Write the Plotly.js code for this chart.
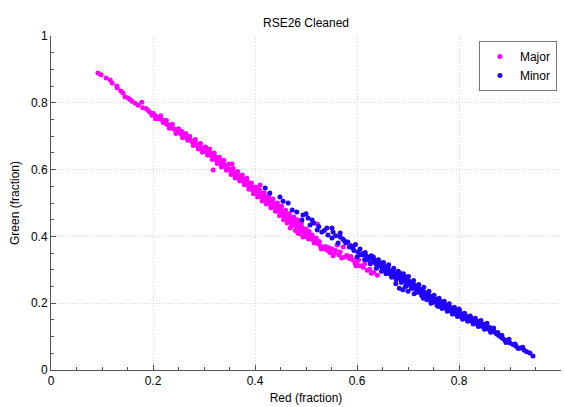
<!DOCTYPE html>
<html>
<head>
<meta charset="utf-8">
<script src="https://cdn.plot.ly/plotly-3.0.1.min.js"></script>
<style>html,body{margin:0;padding:0;background:#fff;}#chart{width:564px;height:407px;}</style>
</head>
<body>
<div id="chart"></div>
<script>
// Major series (magenta)
var majorX = [0.092,0.098,0.108,0.116,0.120,0.129,0.130,0.137,0.141,0.145,0.151,0.155,0.159,0.165,0.171,0.178,0.180,0.186,0.190,0.194,0.200,0.198,0.204,0.208,0.212,0.214,0.218,0.220,0.224,0.227,0.229,0.233,0.235,0.237,0.240,0.243,0.246,0.249,0.252,0.255,0.259,0.262,0.265,0.267,0.270,0.273,0.276,0.278,0.281,0.284,0.287,0.288,0.291,0.295,0.298,0.300,0.302,0.306,0.308,0.310,0.312,0.315,0.318,0.318,0.321,0.323,0.325,0.328,0.331,0.333,0.336,0.338,0.341,0.343,0.346,0.347,0.350,0.352,0.355,0.355,0.358,0.360,0.362,0.364,0.367,0.369,0.371,0.374,0.376,0.378,0.380,0.383,0.385,0.387,0.389,0.390,0.392,0.394,0.396,0.398,0.400,0.402,0.404,0.406,0.408,0.410,0.411,0.413,0.415,0.417,0.419,0.421,0.424,0.426,0.428,0.430,0.432,0.434,0.436,0.438,0.441,0.443,0.445,0.447,0.449,0.451,0.453,0.455,0.457,0.459,0.462,0.464,0.466,0.468,0.469,0.471,0.473,0.475,0.477,0.480,0.482,0.484,0.486,0.488,0.490,0.492,0.494,0.496,0.498,0.500,0.503,0.506,0.508,0.510,0.514,0.518,0.522,0.524,0.528,0.532,0.536,0.540,0.544,0.547,0.551,0.556,0.561,0.567,0.573,0.576,0.580,0.585,0.592,0.596,0.600,0.606,0.612,0.620,0.625,0.633,0.640,
  0.205,0.215,0.226,0.232,0.238,0.245,0.250,0.256,0.258,0.264,0.268,0.272,0.279,0.283,0.289,0.293,0.297,0.303,0.307,0.311,0.316,0.320,0.326,0.330,0.334,0.339,0.344,0.349,0.353,0.357,0.361,0.366,0.370,0.375,0.379,0.384,0.388,0.393,0.397,0.401,0.405,0.409,0.414,0.418,0.422,0.427,0.431,0.435,0.440,0.444,0.448,0.452,0.456,0.460,0.463,0.467,0.472,0.476,0.479,0.483,0.487,0.491,0.495,0.499,0.505,0.512,0.516,0.520,0.526,0.530,0.538,0.545,0.553,0.558,0.565,0.570,0.588,0.598,0.603,0.615,0.628];
var majorY = [0.889,0.884,0.874,0.868,0.859,0.850,0.844,0.835,0.829,0.818,0.814,0.810,0.805,0.799,0.793,0.802,0.785,0.783,0.778,0.772,0.769,0.763,0.762,0.757,0.752,0.755,0.749,0.741,0.744,0.736,0.734,0.733,0.727,0.729,0.722,0.720,0.716,0.713,0.711,0.706,0.704,0.701,0.696,0.699,0.690,0.689,0.684,0.683,0.678,0.680,0.674,0.670,0.668,0.664,0.665,0.658,0.661,0.653,0.649,0.656,0.644,0.646,0.636,0.599,0.640,0.632,0.628,0.624,0.620,0.626,0.615,0.618,0.613,0.607,0.609,0.604,0.600,0.596,0.617,0.593,0.590,0.586,0.582,0.589,0.578,0.574,0.580,0.569,0.566,0.572,0.561,0.557,0.563,0.552,0.548,0.556,0.543,0.549,0.538,0.545,0.534,0.530,0.541,0.526,0.533,0.554,0.520,0.527,0.516,0.523,0.510,0.518,0.505,0.512,0.499,0.509,0.494,0.502,0.488,0.497,0.484,0.490,0.477,0.486,0.470,0.480,0.466,0.473,0.460,0.468,0.455,0.462,0.448,0.457,0.425,0.443,0.451,0.437,0.446,0.431,0.440,0.410,0.425,0.434,0.419,0.428,0.398,0.413,0.410,0.422,0.404,0.415,0.402,0.396,0.389,0.384,0.437,0.378,0.372,0.368,0.364,0.360,0.357,0.352,0.362,0.349,0.374,0.353,0.368,0.338,0.343,0.334,0.329,0.320,0.324,0.312,0.308,0.299,0.302,0.292,0.284,
  0.752,0.761,0.748,0.724,0.736,0.708,0.722,0.715,0.695,0.708,0.688,0.700,0.672,0.690,0.662,0.678,0.652,0.668,0.643,0.662,0.630,0.650,0.618,0.637,0.608,0.628,0.598,0.617,0.585,0.603,0.575,0.594,0.566,0.584,0.555,0.574,0.541,0.560,0.528,0.548,0.518,0.540,0.506,0.531,0.497,0.522,0.486,0.512,0.475,0.500,0.462,0.490,0.450,0.478,0.440,0.468,0.432,0.458,0.418,0.450,0.408,0.440,0.420,0.400,0.392,0.404,0.380,0.395,0.385,0.362,0.370,0.366,0.342,0.358,0.344,0.335,0.340,0.312,0.330,0.318,0.290];

// Minor series (blue)
var minorX = [0.420,0.429,0.449,0.465,0.473,0.482,0.494,0.504,0.512,0.492,0.508,0.522,0.541,0.553,0.531,0.543,0.567,0.551,0.551,0.567,0.582,0.563,0.575,0.588,0.592,0.597,0.602,0.606,0.610,0.612,0.616,0.620,0.622,0.625,0.628,0.631,0.634,0.637,0.640,0.643,0.645,0.647,0.649,0.651,0.653,0.656,0.659,0.661,0.663,0.665,0.667,0.669,0.671,0.673,0.675,0.678,0.680,0.682,0.684,0.686,0.688,0.690,0.692,0.694,0.696,0.698,0.700,0.702,0.704,0.706,0.708,0.710,0.712,0.714,0.716,0.718,0.720,0.722,0.724,0.726,0.728,0.730,0.732,0.734,0.736,0.738,0.740,0.742,0.744,0.746,0.748,0.750,0.752,0.754,0.756,0.758,0.760,0.762,0.764,0.766,0.768,0.770,0.772,0.774,0.776,0.778,0.780,0.782,0.784,0.786,0.788,0.790,0.792,0.794,0.796,0.798,0.800,0.800,0.803,0.806,0.809,0.812,0.815,0.818,0.821,0.824,0.827,0.830,0.833,0.836,0.839,0.842,0.845,0.848,0.851,0.854,0.857,0.860,0.863,0.866,0.870,0.874,0.878,0.882,0.886,0.890,0.895,0.900,0.906,0.912,0.920,0.928,0.939,0.945,0.683,0.690,0.695,0.676,0.700,0.712,0.730,0.745,0.760,
  0.600,0.605,0.615,0.618,0.626,0.632,0.638,0.642,0.648,0.652,0.657,0.662,0.668,0.672,0.677,0.681,0.687,0.691,0.697,0.701,0.707,0.711,0.717,0.721,0.727,0.731,0.737,0.741,0.747,0.751,0.757,0.761,0.767,0.771,0.777,0.781,0.787,0.791,0.797,0.801,0.807,0.811,0.817,0.822,0.828,0.832,0.838,0.843,0.850,0.855,0.862,0.868,0.876,0.884,0.892,0.898,0.910,0.916,0.925,0.933,
  0.455,0.500,0.515,0.525,0.536,0.558,0.572,0.578,0.585,0.594];
var minorY = [0.545,0.530,0.518,0.500,0.479,0.473,0.464,0.455,0.449,0.449,0.434,0.419,0.425,0.413,0.413,0.404,0.410,0.395,0.425,0.398,0.383,0.380,0.388,0.372,0.365,0.376,0.353,0.362,0.348,0.344,0.352,0.338,0.330,0.335,0.342,0.323,0.330,0.318,0.326,0.312,0.314,0.320,0.308,0.302,0.311,0.296,0.299,0.306,0.290,0.296,0.284,0.290,0.298,0.281,0.287,0.284,0.276,0.282,0.290,0.272,0.278,0.275,0.268,0.280,0.262,0.270,0.258,0.266,0.263,0.252,0.260,0.247,0.255,0.243,0.250,0.238,0.246,0.234,0.242,0.229,0.238,0.225,0.233,0.220,0.228,0.217,0.225,0.213,0.221,0.209,0.218,0.206,0.214,0.203,0.211,0.199,0.207,0.196,0.204,0.192,0.200,0.189,0.196,0.186,0.193,0.182,0.190,0.178,0.186,0.175,0.182,0.172,0.179,0.168,0.176,0.165,0.183,0.172,0.161,0.168,0.157,0.164,0.153,0.159,0.148,0.155,0.144,0.150,0.140,0.146,0.136,0.141,0.131,0.137,0.127,0.132,0.123,0.127,0.118,0.122,0.113,0.108,0.103,0.099,0.094,0.090,0.085,0.081,0.076,0.071,0.066,0.059,0.051,0.042,0.245,0.240,0.250,0.258,0.236,0.228,0.215,0.200,0.190,
  0.338,0.345,0.330,0.342,0.318,0.338,0.305,0.330,0.296,0.322,0.288,0.315,0.278,0.305,0.270,0.296,0.262,0.288,0.252,0.280,0.244,0.268,0.232,0.256,0.222,0.248,0.210,0.236,0.202,0.224,0.193,0.215,0.184,0.206,0.176,0.198,0.168,0.188,0.160,0.178,0.152,0.170,0.146,0.162,0.138,0.155,0.130,0.148,0.122,0.140,0.113,0.126,0.112,0.104,0.082,0.092,0.078,0.064,0.068,0.055,
  0.505,0.468,0.440,0.430,0.418,0.402,0.392,0.380,0.368,0.358];

var seriesNames = ["Major", "Minor"];
var tickVals = [0, 0.2, 0.4, 0.6, 0.8, 1];
var tickText = ["0", "0.2", "0.4", "0.6", "0.8", "1"];

var font = "Liberation Sans, Arial, sans-serif";
var traces = [
  {x: majorX, y: majorY, name: seriesNames[0], type: "scatter", mode: "markers",
   marker: {color: "#ff00ff", size: 5}},
  {x: minorX, y: minorY, name: seriesNames[1], type: "scatter", mode: "markers",
   marker: {color: "#2000ff", size: 5}}
];

function axis(title, standoff) {
  return {
    title: {text: title, standoff: standoff, font: {size: 12, color: "#000", family: font}},
    range: [0, 1],
    tickvals: tickVals,
    ticktext: tickText,
    tickfont: {size: 12, color: "#000", family: font},
    showline: true, linecolor: "#555", linewidth: 1,
    ticks: "inside", ticklen: 5, tickcolor: "#555",
    showgrid: true, gridcolor: "#d8d8d8", griddash: "1px,2px", gridwidth: 1,
    zeroline: false,
    minor: {ticks: "inside", ticklen: 3, tickcolor: "#555", dtick: 0.05, tick0: 0, showgrid: false},
    fixedrange: true
  };
}

var layout = {
  width: 564, height: 407,
  margin: {l: 51, r: 3, t: 36, b: 37},
  paper_bgcolor: "#fff", plot_bgcolor: "#fff",
  title: {text: "RSE26 Cleaned", font: {size: 12, color: "#000", family: font}, x: 0.5, xref: "paper", y: 0.955, yref: "container", xanchor: "center"},
  xaxis: axis("Red (fraction)", 6),
  yaxis: axis("Green (fraction)", 8),
  showlegend: true,
  legend: {x: 0.992, y: 0.985, xanchor: "right", yanchor: "top", bgcolor: "#fff",
           bordercolor: "#777", borderwidth: 1, font: {size: 12, color: "#000", family: font},
           itemwidth: 30, tracegroupgap: 0}
};

Plotly.newPlot("chart", traces, layout, {displayModeBar: false, staticPlot: true});
</script>
</body>
</html>
